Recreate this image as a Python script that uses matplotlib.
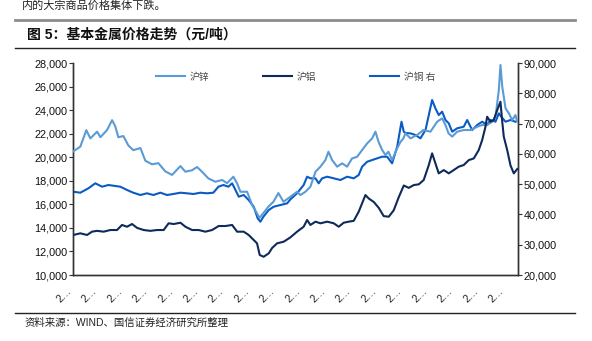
import numpy as np
import matplotlib
matplotlib.use('Agg')
import matplotlib.pyplot as plt
from matplotlib.lines import Line2D

plt.rcParams['font.family'] = ['Liberation Sans', 'Noto Sans CJK SC', 'DejaVu Sans']

# months since Jan 2019, values in yuan/ton
zinc_m = [0.0, 0.55, 1.02, 1.34, 1.87, 2.13, 2.65, 3.05, 3.31, 3.54, 3.94, 4.33, 4.72, 5.28, 5.67,
          6.20, 6.69, 7.24, 7.77, 8.43, 8.82, 9.35, 9.74, 10.13, 10.63, 11.18, 11.71, 12.10, 12.60,
          12.89, 13.15, 13.68, 14.07, 14.46, 14.65, 14.96, 15.35, 15.75, 16.14, 16.54, 17.09, 17.61,
          17.87, 18.27, 18.66, 19.06, 19.45, 19.84, 20.08, 20.37, 20.76, 21.16, 21.55, 21.94, 22.34,
          22.73, 23.13, 23.52, 23.78, 24.02, 24.31, 24.57, 24.80, 25.09, 25.49, 25.75, 25.98, 26.14,
          26.54, 27.06, 27.56, 28.11, 28.64, 29.03, 29.29, 29.53, 29.82, 30.21, 30.71, 31.26, 31.79,
          32.18, 32.57, 32.97, 33.23, 33.49, 33.62, 33.76, 34.02, 34.28, 34.54, 34.80, 34.94]
zinc = [20500, 20900, 22300, 21600, 22170, 21700, 22300, 23150, 22600, 21700, 21800, 21000, 20600,
        20780, 19700, 19400, 19500, 18800, 18500, 19250, 18770, 18900, 19170, 18770, 18200, 17920,
        18070, 17800, 18350, 17780, 17070, 17070, 15940, 15230, 14850, 15260, 15800, 16220, 16960,
        16220, 16650, 17070, 16790, 17070, 17500, 18770, 19200, 19760, 20470, 19760, 19200, 19480,
        19200, 19900, 20040, 20610, 21180, 21600, 22170, 21320, 20610, 20190, 20470, 19760, 20760,
        21300, 21600, 22030, 21600, 21890, 22310, 22170, 23020, 23300, 22740, 22030, 21750, 22170,
        22310, 22310, 22590, 22740, 22740, 23020, 23440, 25700, 27830, 25990, 24150, 23730, 23160,
        23580, 23020]

alu_m = [0.0, 0.55, 1.08, 1.47, 1.87, 2.39, 2.91, 3.44, 3.83, 4.23, 4.62, 5.02, 5.54, 6.06, 6.59,
         7.11, 7.50, 7.90, 8.43, 8.82, 9.35, 9.87, 10.39, 10.92, 11.44, 11.97, 12.50, 12.89, 13.41,
         13.80, 14.20, 14.46, 14.67, 14.98, 15.38, 15.65, 16.04, 16.56, 17.09, 17.61, 18.13, 18.40,
         18.66, 19.06, 19.45, 19.98, 20.50, 20.89, 21.28, 21.68, 22.07, 22.46, 22.73, 22.99, 23.25,
         23.65, 24.04, 24.43, 24.83, 25.22, 25.61, 26.01, 26.40, 26.80, 27.19, 27.58, 27.98, 28.24,
         28.50, 28.76, 29.16, 29.55, 29.94, 30.34, 30.73, 31.13, 31.52, 31.91, 32.18, 32.44, 32.57,
         32.83, 33.09, 33.36, 33.62, 33.76, 33.88, 34.15, 34.41, 34.67, 34.94]
alu = [13400, 13540, 13400, 13680, 13750, 13680, 13820, 13820, 14250, 14100, 14330, 14000, 13820,
       13750, 13820, 13820, 14390, 14330, 14440, 14100, 13820, 13820, 13680, 13820, 14160, 14160,
       14250, 13680, 13680, 13400, 12970, 12690, 11700, 11550, 11840, 12300, 12690, 12830, 13200,
       13680, 14100, 14670, 14250, 14530, 14390, 14530, 14390, 14100, 14440, 14530, 14600, 15370,
       16090, 16790, 16500, 16200, 15700, 15000, 14950, 15500, 16600, 17600, 17400, 17640, 17700,
       18070, 19340, 20330, 19480, 18630, 18910, 18630, 18910, 19200, 19340, 19760, 19900, 20610,
       21460, 22590, 23440, 23020, 23160, 24000, 24710, 23020, 21750, 20610, 19300, 18630, 19000]

copper_m = [0.0, 0.55, 1.18, 1.73, 2.26, 2.76, 3.31, 3.70, 4.23, 4.72, 5.28, 5.80, 6.30, 6.85, 7.38,
            7.87, 8.43, 8.95, 9.45, 10.0, 10.53, 11.02, 11.42, 11.81, 12.20, 12.50, 12.76, 13.02,
            13.41, 13.80, 14.20, 14.51, 14.72, 14.96, 15.38, 15.77, 16.30, 16.83, 17.09, 17.61,
            18.13, 18.40, 18.66, 19.06, 19.31, 19.58, 19.98, 20.50, 21.02, 21.55, 22.07, 22.46,
            22.73, 23.13, 23.52, 23.91, 24.31, 24.70, 25.09, 25.49, 25.83, 26.01, 26.14, 26.54,
            26.93, 27.32, 27.72, 27.98, 28.24, 28.50, 28.76, 29.03, 29.29, 29.55, 29.82, 30.21,
            30.73, 31.0, 31.39, 31.79, 32.18, 32.57, 32.83, 33.23, 33.49, 33.68, 34.02, 34.41, 34.80]
copper = [47500, 47180, 48620, 50280, 49160, 49720, 49390, 49160, 48070, 47180, 46420, 46980, 46420,
          47180, 46420, 46750, 47180, 46980, 46750, 47180, 46980, 47180, 49160, 49720, 49160, 50280,
          48070, 45860, 46420, 44770, 42550, 38720, 37600, 39250, 41460, 42550, 43110, 43670, 45000,
          47000, 49720, 52460, 51930, 51930, 50280, 51930, 52460, 51930, 51370, 52460, 51930, 53020,
          55770, 57410, 57970, 58520, 59060, 59060, 56880, 62360, 70620, 67320, 66900, 66770, 66230,
          65130, 67880, 72830, 77790, 75040, 72830, 73920, 71180, 70090, 67320, 68440, 68970, 71180,
          67880, 69540, 70620, 69540, 71180, 70620, 73390, 72290, 70620, 71180, 70620]

tick_m = list(range(0, 35, 2))
tick_labels = ['2…'] * len(tick_m)

c_zinc = '#5b9bd5'
c_alu = '#0e2a5a'
c_copper = '#0a5bc4'

fig = plt.figure(figsize=(5.92, 3.41), dpi=100)
ax = fig.add_axes([0.1228, 0.1935, 0.7522, 0.6217])
ax2 = ax.twinx()

ax.plot(zinc_m, zinc, color=c_zinc, lw=1.5, zorder=3)
ax.plot(alu_m, alu, color=c_alu, lw=1.5, zorder=3)
ax2.plot(copper_m, copper, color=c_copper, lw=1.5, zorder=2)
ax.set_zorder(ax2.get_zorder() + 1)
ax.patch.set_visible(False)

ax.set_xlim(-0.05, 35.0)
ax.set_ylim(10000, 28000)
ax2.set_ylim(20000, 90000)
ax.set_yticks(np.arange(10000, 28001, 2000))
ax2.set_yticks(np.arange(20000, 90001, 10000))
ax.yaxis.set_major_formatter(matplotlib.ticker.StrMethodFormatter('{x:,.0f}'))
ax2.yaxis.set_major_formatter(matplotlib.ticker.StrMethodFormatter('{x:,.0f}'))
ax.set_xticks(tick_m)
ax.set_xticklabels(tick_labels, rotation=45, ha='right', va='top', fontsize=7.5, color='#222222')

for a in (ax, ax2):
    a.spines['top'].set_visible(False)
    for s in ('left', 'right', 'bottom'):
        a.spines[s].set_color('#333333')
        a.spines[s].set_linewidth(1.0)
ax.tick_params(axis='y', labelsize=7.8, length=3, width=0.8, color='#333333', labelcolor='#111111', pad=1)
ax2.tick_params(axis='y', labelsize=7.8, length=3, width=0.8, color='#333333', labelcolor='#111111', pad=1)
ax.tick_params(axis='x', length=0, pad=8)

handles = [Line2D([], [], color=c_zinc, lw=1.5),
           Line2D([], [], color=c_alu, lw=1.5),
           Line2D([], [], color=c_copper, lw=1.5)]
leg = ax.legend(handles, ['沪锌', '沪铝', '沪铜 右'], loc='upper center', bbox_to_anchor=(0.5, 1.0),
                ncol=3, frameon=False, handlelength=3.0, columnspacing=5.5,
                handletextpad=0.5, prop={'family': ['Noto Sans CJK SC'], 'size': 7})
for t in leg.get_texts():
    t.set_color('#444444')

# header / footer decorations
fig.add_artist(Line2D([15 / 592, 575 / 592], [1 - 20 / 341, 1 - 20 / 341], color='#8c8c8c', lw=2.0))
fig.add_artist(Line2D([15 / 592, 575 / 592], [1 - 48 / 341, 1 - 48 / 341], color='#222222', lw=1.0))
fig.add_artist(Line2D([15 / 592, 575 / 592], [1 - 313 / 341, 1 - 313 / 341], color='#222222', lw=1.0))
fig.text(22 / 592, 1 - 6 / 341, '内的大宗商品价格集体下跌。', fontsize=8, va='center', ha='left',
         family=['Noto Sans CJK SC'], color='#222222')
fig.text(27 / 592, 1 - 35 / 341, '图 5：基本金属价格走势（元/吨）', fontsize=10, fontweight='bold',
         va='center', ha='left', family=['Liberation Sans', 'Noto Sans CJK SC'], color='#111111')
fig.text(25 / 592, 1 - 323 / 341, '资料来源：WIND、国信证券经济研究所整理', fontsize=7.5,
         va='center', ha='left', family=['Liberation Sans', 'Noto Sans CJK SC'], color='#222222')

fig.savefig('out.png', dpi=100)
